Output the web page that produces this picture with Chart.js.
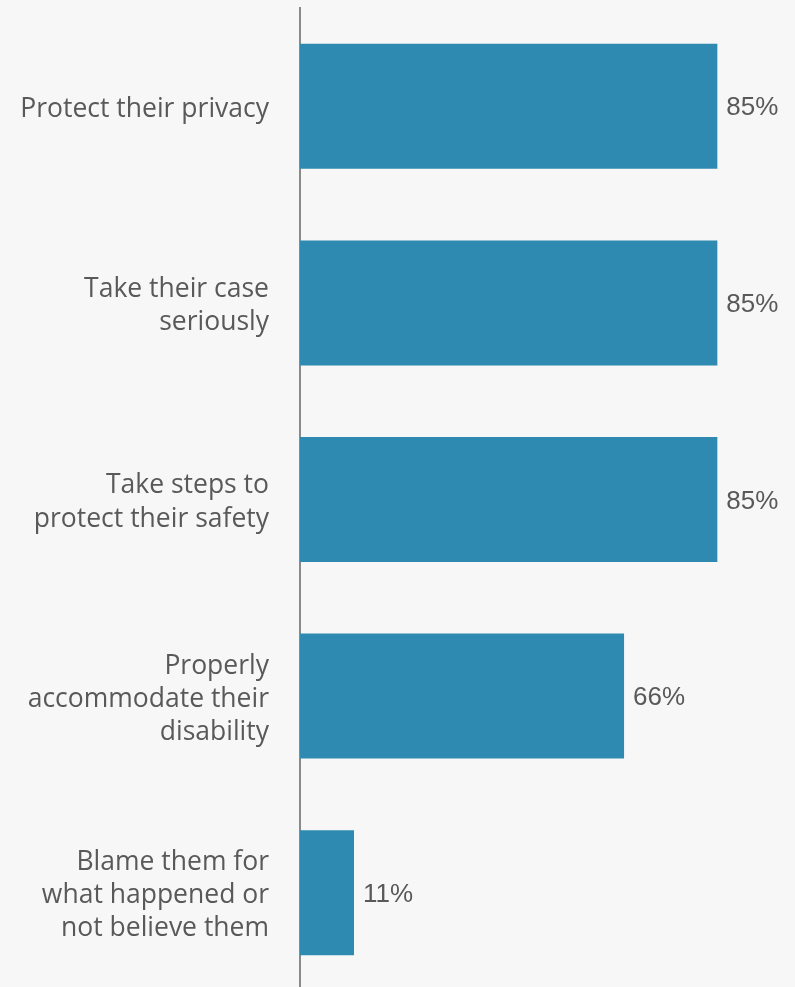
<!DOCTYPE html>
<html>
<head>
<meta charset="utf-8">
<script src="https://cdn.jsdelivr.net/npm/chart.js@4"></script>
<style>
  html, body { margin: 0; padding: 0; background: #f7f7f7; overflow: hidden; }
  #wrap { width: 795px; height: 991px; }
</style>
</head>
<body>
<div id="wrap"><canvas id="chart"></canvas></div>
<script>
// responses, share of respondents (%)
const categories = [
    ['Protect their privacy'],
    ['Take their case', 'seriously'],
    ['Take steps to', 'protect their safety'],
    ['Properly', 'accommodate their', 'disability'],
    ['Blame them for', 'what happened or', 'not believe them']
];
const values = [85, 85, 85, 66, 11];
const valueLabels = ['85%', '85%', '85%', '66%', '11%'];

// writes the percentage just past the end of each bar
const barValues = {
    id: 'barValues',
    afterDatasetsDraw(chart) {
        const ctx = chart.ctx;
        const meta = chart.getDatasetMeta(0);
        ctx.save();
        ctx.font = '26px "Liberation Sans", Arial, sans-serif';
        ctx.fillStyle = '#595959';
        ctx.textAlign = 'left';
        ctx.textBaseline = 'middle';
        meta.data.forEach((bar, i) => {
            ctx.fillText(valueLabels[i], bar.x + 9, bar.y + 2);
        });
        ctx.restore();
    }
};

new Chart(document.getElementById('chart'), {
    type: 'bar',
    data: {
        labels: categories,
        datasets: [{
            data: values,
            backgroundColor: '#2e8ab0',
            borderWidth: 0,
            categoryPercentage: 1,
            barPercentage: 0.636
        }]
    },
    options: {
        indexAxis: 'y',
        responsive: true,
        maintainAspectRatio: false,
        animation: false,
        layout: { padding: { top: 8, right: 4, bottom: 0, left: 0 } },
        plugins: {
            legend: { display: false },
            tooltip: { enabled: false }
        },
        scales: {
            x: {
                display: false,
                min: 0,
                max: 100
            },
            y: {
                afterFit(scale) {
                    scale.width = 300;
                    // multi-line labels would otherwise push the plot inward
                    scale.paddingTop = 0;
                    scale.paddingBottom = 0;
                },
                grid: { display: false, drawTicks: false },
                border: { display: true, color: '#8a8a8a', width: 2 },
                ticks: {
                    padding: 31,
                    labelOffset: 3,
                    color: '#595959',
                    font: { family: '"Open Sans", sans-serif', size: 26.5, lineHeight: 1.25 }
                }
            }
        }
    },
    plugins: [barValues]
});
</script>
</body>
</html>
